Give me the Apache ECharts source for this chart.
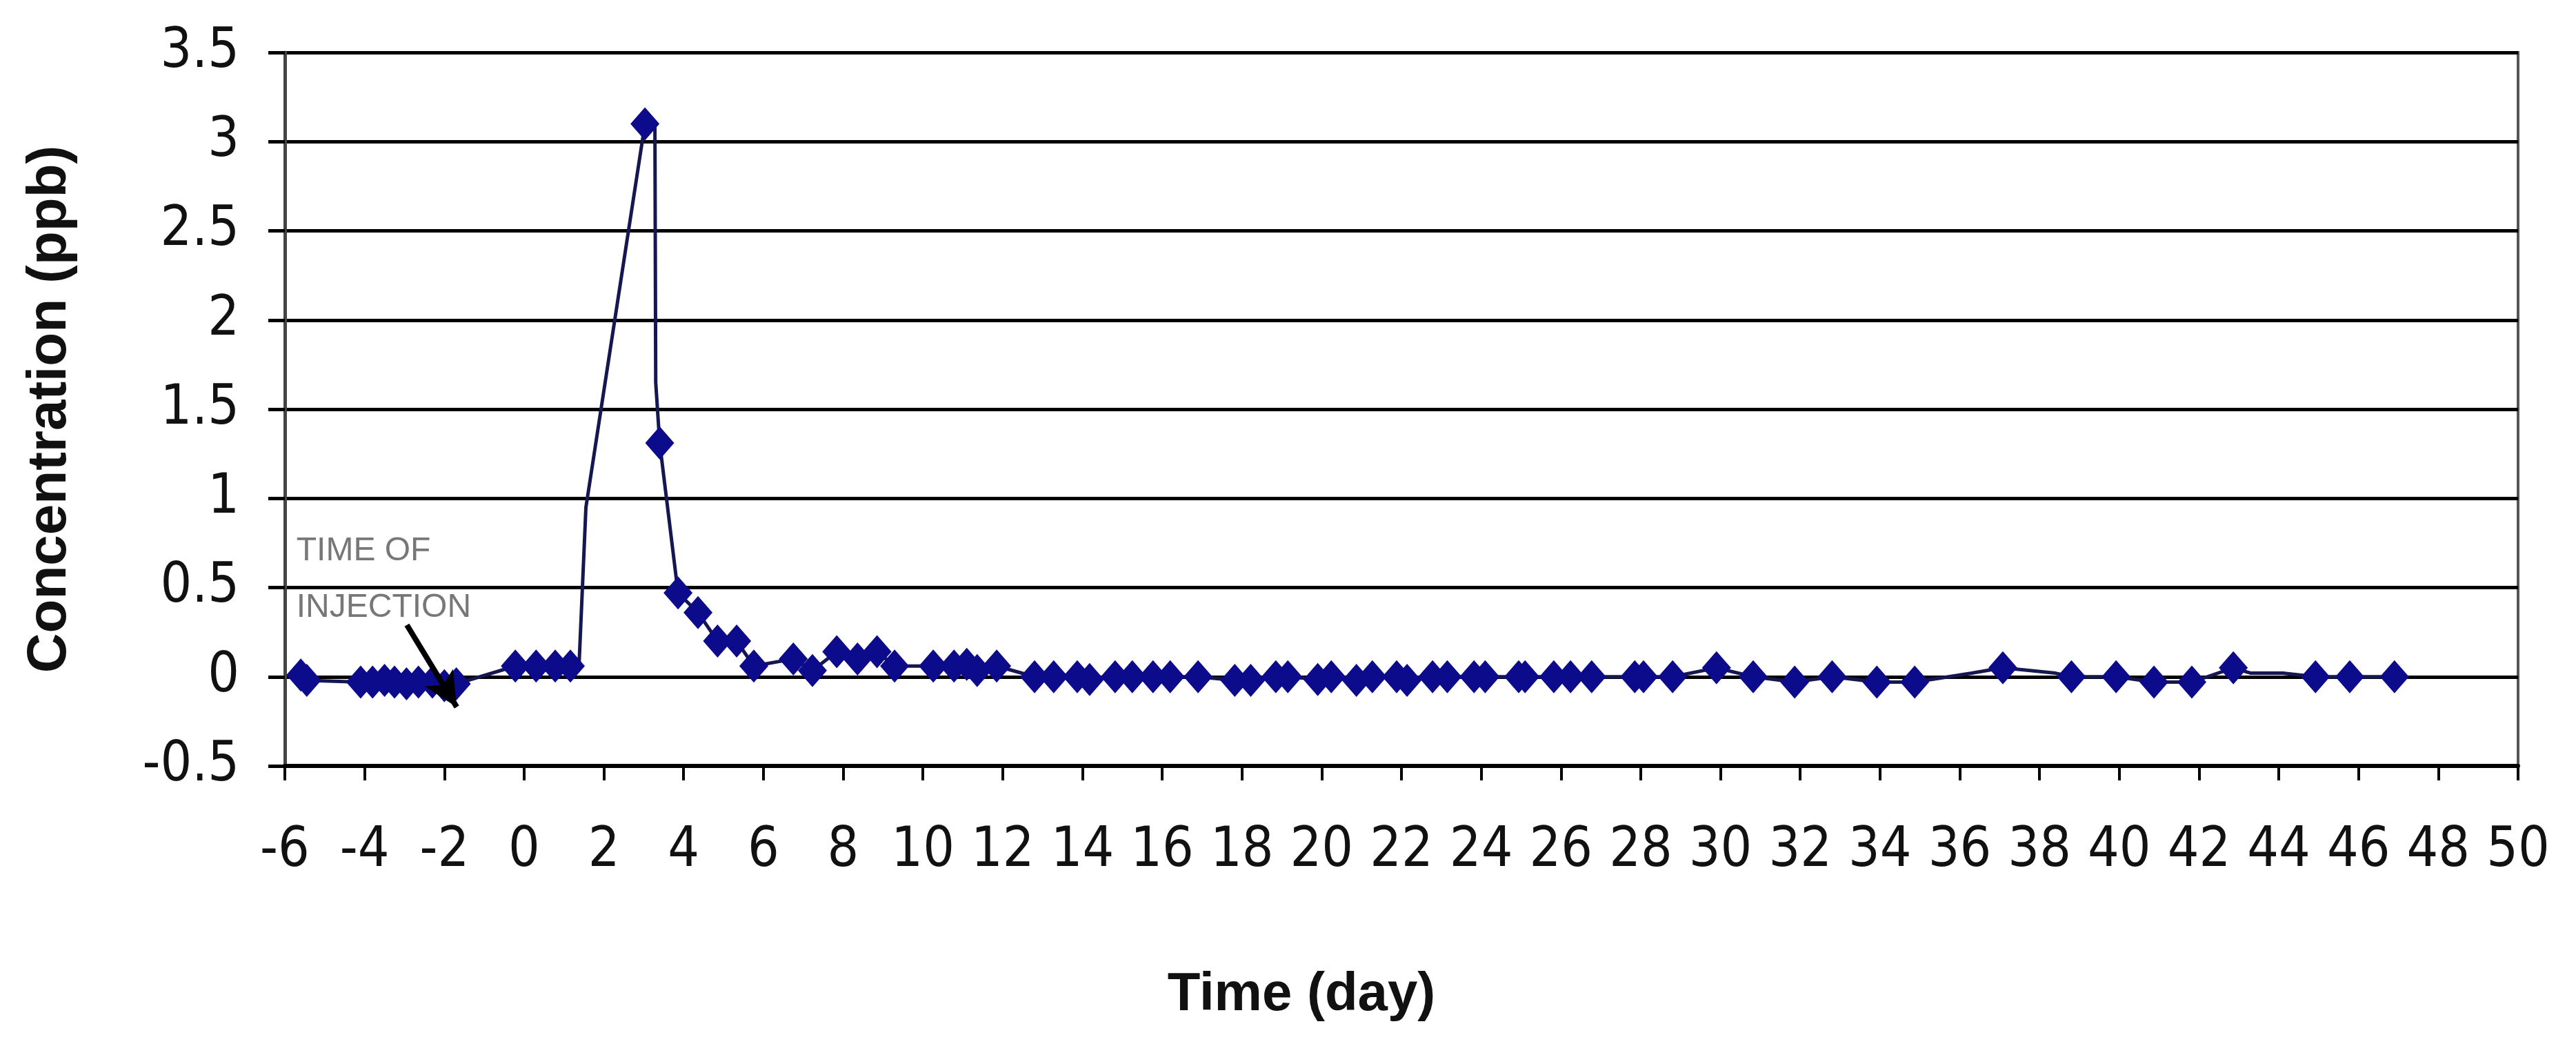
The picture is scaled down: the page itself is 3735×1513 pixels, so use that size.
<!DOCTYPE html>
<html><head><meta charset="utf-8">
<script src="https://cdn.jsdelivr.net/npm/echarts@6/dist/echarts.min.js"></script>
<style>html,body{margin:0;padding:0;background:#fff}#c{width:3735px;height:1513px}</style>
</head><body><div id="c"></div>
<script>
// ---- data ----
const times = [
  -5.6, -5.45,
  -4.1, -3.8, -3.5, -3.25, -2.95, -2.65, -2.3, -2.0, -1.7,
  -0.22, 0.3, 0.78, 1.16,
  1.38, 1.55,
  3.03,
  3.28, 3.3,
  3.4, 3.86, 4.36, 4.85, 5.33, 5.76, 6.75, 7.23, 7.84, 8.36, 8.85, 9.29, 10.26, 10.78, 11.1, 11.36, 11.85,
  12.8, 13.28, 13.87, 14.18, 14.82, 15.25, 15.77, 16.2, 16.9, 17.82, 18.22, 18.85, 19.15, 19.9, 20.24, 20.87,
  21.27, 21.88, 22.14, 22.78, 23.15, 23.82, 24.1, 24.94, 25.1, 25.82, 26.24, 26.77, 27.85, 28.07, 28.8, 29.9,
  30.82, 31.86, 32.8, 33.92, 34.87,
  36.3, 37.08, 38.4, 38.8, 39.92, 40.87, 41.82, 42.86, 43.3, 44.1, 44.92, 45.78, 46.9
];
const concentrations = [
  0.01, -0.02,
  -0.03, -0.03, -0.02, -0.03, -0.04, -0.03, -0.03, -0.05, -0.04,
  0.06, 0.06, 0.06, 0.06,
  0.08, 0.95,
  3.1,
  3.08, 1.65,
  1.31, 0.47, 0.36, 0.20, 0.20, 0.06, 0.10, 0.035, 0.14, 0.10, 0.14, 0.06, 0.06, 0.06, 0.07, 0.035, 0.06,
  0.0, 0.0, 0.0, -0.015, 0.0, 0.0, 0.0, 0.0, 0.0, -0.02, -0.02, 0.0, 0.0, -0.015, 0.0, -0.02,
  0.0, 0.0, -0.02, 0.0, 0.0, 0.0, 0.0, 0.0, 0.0, 0.0, 0.0, 0.0, 0.0, 0.0, 0.0, 0.05,
  0.0, -0.03, 0.0, -0.03, -0.03,
  0.02, 0.05, 0.02, 0.0, 0.0, -0.03, -0.03, 0.05, 0.02, 0.02, 0.0, 0.0, 0.0
];
// vertices of the line that carry no marker
const unmarkedTimes = [1.38, 1.55, 3.28, 3.3, 36.3, 38.4, 43.3, 44.1];

const xTickLabels = [-6,-4,-2,0,2,4,6,8,10,12,14,16,18,20,22,24,26,28,30,32,34,36,38,40,42,44,46,48,50];
const yTickLabels = [-0.5,0,0.5,1,1.5,2,2.5,3,3.5];

const annotationLines = ['TIME OF', 'INJECTION'];
const annotationAt = [-5.71, 0.545];
const arrowFrom = [-2.94, 0.29];
const arrowTo = [-1.69, -0.17];

// ---- chart ----
const seriesData = times.map((t, i) => {
  const d = { value: [t, concentrations[i]] };
  if (unmarkedTimes.includes(t)) d.symbol = 'none';
  return d;
});

const tickFont = "'Liberation Sans Narrow','Arial Narrow','DejaVu Sans Condensed',sans-serif";
const titleFont = "'Liberation Sans',Arial,sans-serif";

const chart = echarts.init(document.getElementById('c'), null, { renderer: 'canvas' });
chart.setOption({
  animation: false,
  backgroundColor: '#ffffff',
  title: {
    text: 'Time (day)',
    left: 1882, top: 1398,
    textAlign: 'center',
    textStyle: { fontFamily: titleFont, fontWeight: 'bold', fontSize: 78, color: '#111' }
  },
  grid: { left: 413, right: 84, top: 76, bottom: 403, show: true, borderColor: '#555', borderWidth: 4 },
  xAxis: {
    type: 'value',
    min: xTickLabels[0], max: xTickLabels[xTickLabels.length - 1],
    interval: xTickLabels[1] - xTickLabels[0],
    axisLine: { show: true, onZero: false, lineStyle: { color: '#000', width: 6 } },
    axisTick: { show: true, inside: false, length: 21, lineStyle: { color: '#000', width: 4 } },
    axisLabel: { margin: 84, fontFamily: tickFont, fontSize: 80, color: '#111' },
    splitLine: { show: false }
  },
  yAxis: {
    type: 'value',
    min: yTickLabels[0], max: yTickLabels[yTickLabels.length - 1],
    interval: yTickLabels[1] - yTickLabels[0],
    name: 'Concentration (ppb)',
    nameLocation: 'middle',
    nameGap: 300,
    nameTextStyle: { fontFamily: titleFont, fontWeight: 'bold', fontSize: 80, color: '#111' },
    axisLine: { show: true, onZero: false, lineStyle: { color: '#444', width: 5 } },
    axisTick: { show: true, inside: false, length: 24, lineStyle: { color: '#000', width: 5 } },
    axisLabel: { margin: 66, fontFamily: tickFont, fontSize: 80, color: '#111' },
    splitLine: { show: true, lineStyle: { color: '#000', width: 5 } }
  },
  series: [{
    type: 'line',
    data: seriesData,
    symbol: 'diamond',
    symbolSize: [42, 48],
    showAllSymbol: true,
    itemStyle: { color: '#0b0b8c' },
    lineStyle: { color: '#161650', width: 5 },
    markPoint: {
      symbol: 'circle', symbolSize: 0,
      data: [{ coord: annotationAt }],
      label: {
        show: true, position: 'right', distance: 0,
        formatter: annotationLines.join('\n'),
        fontFamily: titleFont, fontSize: 48, color: '#777', lineHeight: 82,
        align: 'left', verticalAlign: 'middle'
      }
    },
    markLine: {
      silent: true,
      symbol: ['none', 'arrow'],
      symbolSize: [36, 50],
      label: { show: false },
      lineStyle: { color: '#000', width: 8, type: 'solid' },
      data: [[{ coord: arrowFrom }, { coord: arrowTo }]]
    }
  }]
});
</script>
</body></html>
